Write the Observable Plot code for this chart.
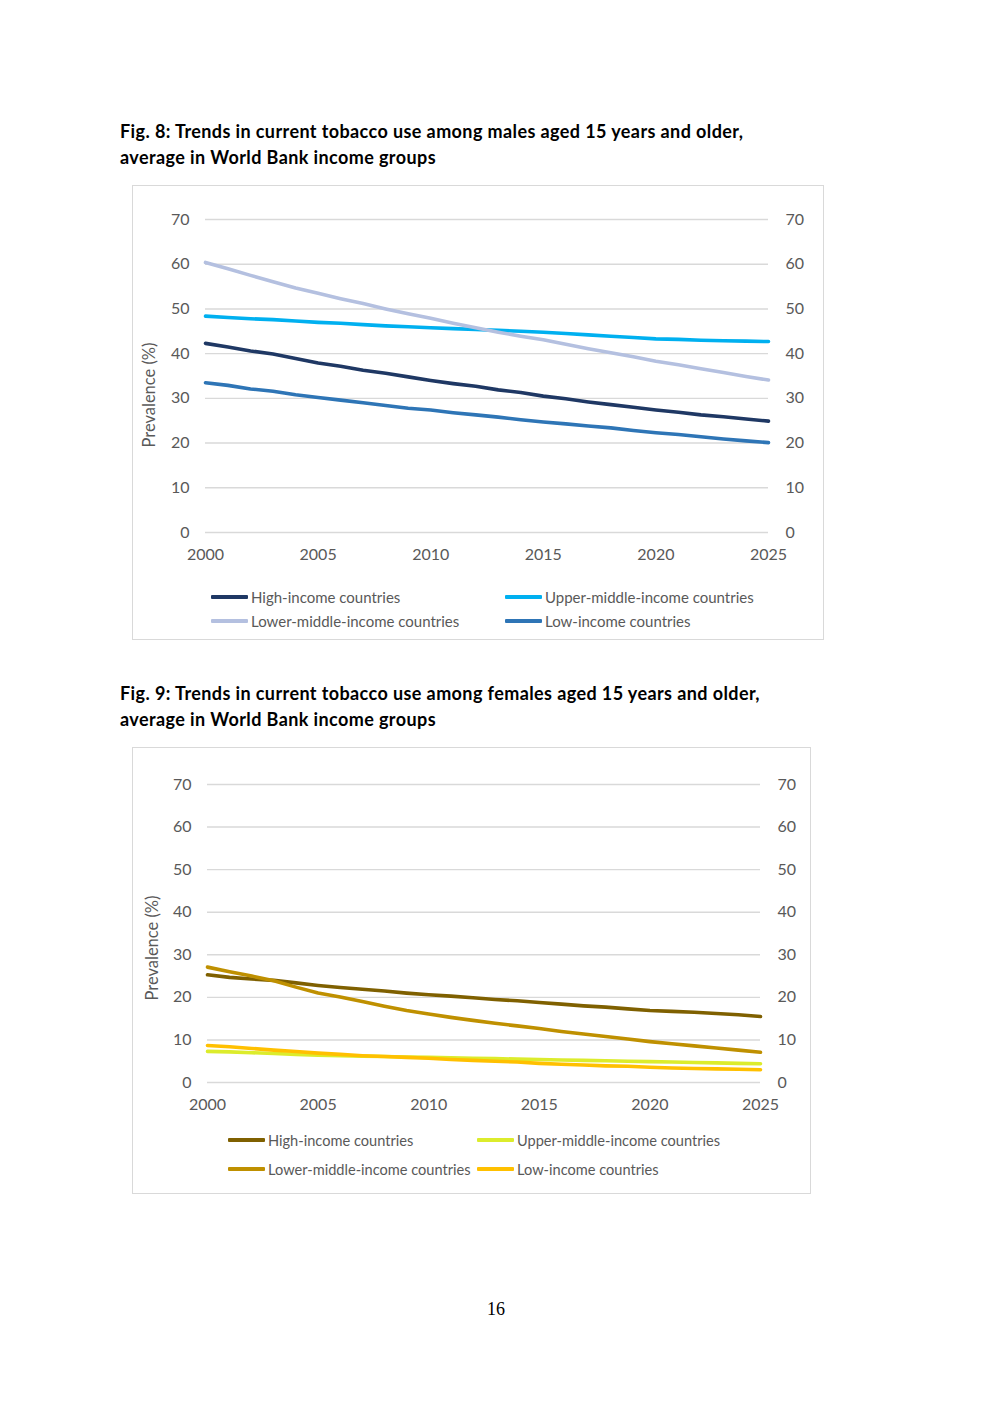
<!DOCTYPE html>
<html>
<head>
<meta charset="utf-8">
<script src="https://cdn.jsdelivr.net/npm/d3@7"></script>
<script src="https://cdn.jsdelivr.net/npm/@observablehq/plot@0.6"></script>
<style>
  html, body { margin: 0; padding: 0; background: #fff; }
  #page { position: relative; width: 992px; height: 1403px; font-family: Lato, "Open Sans", sans-serif; }
  .title { position: absolute; left: 120px; font-weight: bold; font-size: 18px; letter-spacing: 0.4px; line-height: 26px; color: #000; white-space: nowrap; }
  .box { position: absolute; border: 1px solid #d9d9d9; box-sizing: border-box; }
  .chart { position: absolute; }
  .leg { position: absolute; display: flex; align-items: center; height: 20px; font-size: 15px; color: #595959; white-space: nowrap; }
  .sw { width: 37px; height: 4px; margin-right: 3px; border-radius: 1px; }
  .ylab { position: absolute; width: 200px; height: 20px; line-height: 20px; text-align: center; font-size: 16.5px; color: #595959; transform: translate(-50%, -50%) rotate(-90deg); white-space: nowrap; }
  #pnum { position: absolute; left: 0; width: 992px; top: 1299px; text-align: center; font-family: "Liberation Serif", "Times New Roman", serif; font-size: 18px; }
</style>
</head>
<body>
<div id="page">
  <div class="title" style="top:118px">Fig. 8: Trends in current tobacco use among males aged 15 years and older,<br>average in World Bank income groups</div>
  <div class="box" style="left:132px;top:185px;width:692px;height:455px"></div>
  <div class="title" style="top:680px">Fig. 9: Trends in current tobacco use among females aged 15 years and older,<br>average in World Bank income groups</div>
  <div class="box" style="left:132px;top:747px;width:679px;height:447px"></div>
  <div class="ylab" style="left:149px;top:395px">Prevalence (%)</div>
  <div class="ylab" style="left:152px;top:948px">Prevalence (%)</div>
  <div id="pnum">16</div>
</div>
<script>
const years = d3.range(2000, 2026);
const groups = ["High-income countries", "Upper-middle-income countries", "Lower-middle-income countries", "Low-income countries"];
const yTicks = [0, 10, 20, 30, 40, 50, 60, 70];
const xTicks = [2000, 2005, 2010, 2015, 2020, 2025];

// Males (%)
const maleHigh  = [42.3,41.5,40.6,39.9,38.9,37.9,37.2,36.3,35.6,34.8,34.0,33.3,32.7,31.9,31.3,30.5,29.9,29.2,28.6,28.0,27.4,26.9,26.3,25.9,25.4,24.9];
const maleUpper = [48.4,48.1,47.8,47.6,47.3,47.0,46.8,46.5,46.2,46.0,45.8,45.6,45.4,45.2,45.0,44.8,44.5,44.2,43.9,43.6,43.3,43.2,43.0,42.9,42.8,42.7];
const maleLower = [60.4,59.0,57.5,56.1,54.7,53.5,52.3,51.2,50.0,48.9,47.9,46.8,45.8,44.8,43.9,43.1,42.1,41.1,40.2,39.3,38.3,37.5,36.6,35.8,34.9,34.1];
const maleLow   = [33.5,32.9,32.1,31.6,30.8,30.2,29.6,29.0,28.4,27.8,27.4,26.8,26.3,25.8,25.2,24.7,24.3,23.8,23.4,22.8,22.3,21.9,21.4,20.9,20.5,20.1];

// Females (%)
const femHigh  = [25.3,24.7,24.3,24.0,23.4,22.8,22.3,21.9,21.5,21.0,20.6,20.3,19.9,19.5,19.2,18.8,18.4,18.0,17.7,17.3,16.9,16.7,16.5,16.2,15.9,15.5];
const femUpper = [7.3,7.2,7.0,6.8,6.6,6.4,6.3,6.2,6.1,6.0,5.9,5.8,5.7,5.6,5.5,5.4,5.3,5.2,5.1,5.0,4.9,4.8,4.7,4.6,4.5,4.4];
const femLower = [27.1,26.0,25.0,23.9,22.4,21.0,20.1,19.0,17.9,16.9,16.1,15.3,14.6,13.9,13.3,12.7,12.0,11.4,10.8,10.2,9.6,9.1,8.6,8.1,7.6,7.1];
const femLow   = [8.7,8.4,8.0,7.6,7.3,6.9,6.6,6.3,6.1,5.9,5.7,5.4,5.2,5.0,4.8,4.5,4.3,4.1,3.9,3.8,3.6,3.4,3.3,3.2,3.1,3.0];

const maleColors = ["#1f3864", "#00b0f0", "#b4c0e0", "#2e75b6"];
const femColors  = ["#7f6000", "#dcec2c", "#bf9000", "#ffc000"];

function toRows(series) {
  const rows = [];
  series.forEach((vals, i) => vals.forEach((v, j) => rows.push({year: years[j], value: v, group: groups[i]})));
  return rows;
}

function makeChart(rows, colors, opts) {
  return Plot.plot({
    width: opts.width,
    height: opts.height,
    marginLeft: opts.ml,
    marginRight: opts.mr,
    marginTop: opts.mt,
    marginBottom: opts.mb,
    style: {fontFamily: "Lato, 'Open Sans', sans-serif", fontSize: "16px", color: "#595959", background: "transparent", overflow: "visible"},
    x: {domain: [2000, 2025]},
    y: {domain: [0, 70]},
    color: {domain: groups, range: colors},
    marks: [
      Plot.gridY(yTicks, {stroke: "#d9d9d9", strokeOpacity: 1, strokeWidth: 1.4}),
      Plot.axisY(yTicks, {anchor: "left", tickSize: 0, tickPadding: 16, label: null, fill: "#595959"}),
      Plot.axisY(yTicks, {anchor: "right", tickSize: 0, tickPadding: 17, textAnchor: "start", label: null, fill: "#595959"}),
      Plot.axisX(xTicks, {tickSize: 0, tickPadding: 16, tickFormat: d => String(d), label: null, fill: "#595959"}),
      ...opts.drawOrder.map(g => Plot.line(rows.filter(r => r.group === g), {x: "year", y: "value", stroke: "group", strokeWidth: 3.6, strokeLinejoin: "round"}))
    ]
  });
}

function place(node, left, top) {
  const d = document.createElement("div");
  d.className = "chart";
  d.style.left = left + "px";
  d.style.top = top + "px";
  d.appendChild(node);
  document.getElementById("page").appendChild(d);
}

function legend(colors, positions, fontSize) {
  groups.forEach((g, i) => {
    const [left, cy] = positions[i];
    const d = document.createElement("div");
    d.className = "leg";
    d.style.left = left + "px";
    d.style.top = (cy - 10) + "px";
    d.style.fontSize = fontSize + "px";
    const sw = document.createElement("div");
    sw.className = "sw";
    sw.style.background = colors[i];
    d.appendChild(sw);
    d.appendChild(document.createTextNode(g));
    document.getElementById("page").appendChild(d);
  });
}

const male = makeChart(toRows([maleHigh, maleUpper, maleLower, maleLow]), maleColors,
  {width: 691, height: 380, ml: 73, mr: 55, mt: 34, mb: 33,
   drawOrder: ["Low-income countries", "High-income countries", "Upper-middle-income countries", "Lower-middle-income countries"]});
place(male, 132, 185);

const fem = makeChart(toRows([femHigh, femUpper, femLower, femLow]), femColors,
  {width: 678, height: 370, ml: 75, mr: 50, mt: 37, mb: 35,
   drawOrder: ["High-income countries", "Lower-middle-income countries", "Upper-middle-income countries", "Low-income countries"]});
place(fem, 132, 747);

legend(maleColors, [[211, 597], [505, 597], [211, 621], [505, 621]], 15);
legend(femColors, [[228, 1140], [477, 1140], [228, 1169], [477, 1169]], 14.6);
</script>
</body>
</html>
